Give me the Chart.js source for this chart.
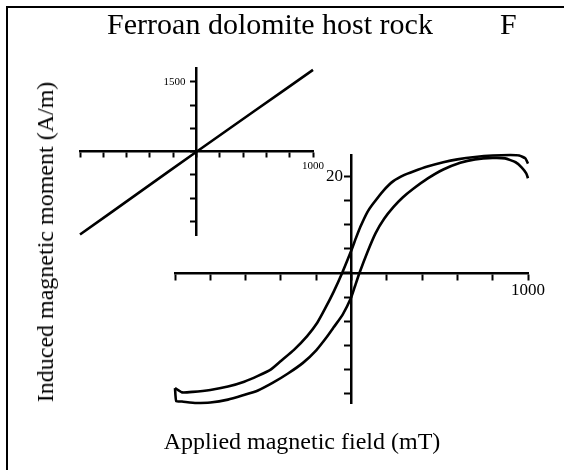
<!DOCTYPE html>
<html>
<head>
<meta charset="utf-8">
<script src="https://cdn.jsdelivr.net/npm/chart.js@4"></script>
<style>
  body { margin: 0; background: #fff; }
  #wrap { position: relative; width: 564px; height: 470px; overflow: hidden;
          font-family: "Liberation Serif", "Times New Roman", serif; color: #000; }
  #frame { position: absolute; left: 6px; top: 6px; right: -10px; bottom: -10px;
           border-top: 2.5px solid #000; border-left: 2.5px solid #000; }
  canvas { position: absolute; left: 0; top: 0; }
  .txt { position: absolute; white-space: nowrap; line-height: 1; }
</style>
</head>
<body>
<div id="wrap">
  <div id="frame"></div>
  <canvas id="main" width="564" height="470"></canvas>
  <canvas id="inset" width="564" height="470"></canvas>
  <div class="txt" style="left:270px; top:9px; font-size:30px; transform:translateX(-50%)">Ferroan dolomite host rock</div>
  <div class="txt" style="left:500px; top:9px; font-size:30px">F</div>
  <div class="txt" style="left:302px; top:429px; font-size:24px; transform:translateX(-50%)">Applied magnetic field (mT)</div>
  <div class="txt" style="left:45px; top:242px; font-size:24px; transform:translate(-50%,-50%) rotate(-90deg)">Induced magnetic moment (A/m)</div>
</div>
<script>
// corrected loop, field in mT, moment in A/m
// descending branch (+1000 -> -1000)
const descField = [1000, 985, 950, 900, 800, 700, 600, 520, 430, 350, 300, 237, 180, 122, 90, 51, 25, 0,
  -53, -100, -150, -194, -250, -326, -400, -458, -530, -608, -700, -800, -900, -960, -1000];
const descMoment = [22.6, 23.7, 24.3, 24.4, 24.3, 24.0, 23.5, 22.9, 22.0, 21.0, 20.3, 19.0, 17.0, 14.3, 12.6, 9.6, 7.2, 4.75,
  0, -3.8, -7.4, -10.3, -13.0, -15.9, -18.2, -20.0, -21.3, -22.5, -23.5, -24.2, -24.6, -24.7, -23.8];
// ascending branch (-1000 -> +1000)
const ascField = [-1000, -993, -960, -880, -800, -700, -615, -530, -445, -360, -275, -200, -139, -100, -50, 0,
  20, 45, 90, 136, 185, 237, 290, 350, 430, 520, 616, 700, 800, 870, 930, 965, 990, 1000];
const ascMoment = [-23.8, -26.5, -26.6, -26.9, -26.8, -26.2, -25.3, -24.3, -22.7, -20.8, -18.6, -16.0, -13.2, -11.2, -8.6, -4.9,
  -2.7, 0, 4.3, 8.2, 11.2, 13.6, 15.6, 17.4, 19.5, 21.4, 22.8, 23.5, 23.8, 23.7, 22.9, 21.8, 20.6, 19.6];

// inset: uncorrected loop
const rawField = [-1000, -500, 0, 500, 1000];
const rawMoment = [-1780, -890, 0, 880, 1760];

const mainXTicks = [-1000, -800, -600, -400, -200, 0, 200, 400, 600, 800, 1000];
const mainXTickLabels = ['', '', '', '', '', '', '', '', '', '', '1000'];
const mainYTicks = [-25, -20, -15, -10, -5, 0, 5, 10, 15, 20];
const mainYTickLabels = ['', '', '', '', '', '', '', '', '', '20\u2002'];

const insetXTicks = [-1000, -800, -600, -400, -200, 0, 200, 400, 600, 800, 1000];
const insetXTickLabels = ['', '', '', '', '', '', '', '', '', '', '1000'];
const insetYTicks = [-1500, -1000, -500, 0, 500, 1000, 1500];
const insetYTickLabels = ['', '', '', '', '', '', '1500\u2003'];

const serif = '"Liberation Serif", "Times New Roman", serif';

function toPoints(xs, ys) {
  return xs.map((x, i) => ({ x: x, y: ys[i] }));
}

function lineSet(points) {
  return {
    data: points,
    showLine: true,
    borderColor: '#000',
    borderWidth: 2.6,
    pointRadius: 0,
    tension: 0.15,
    fill: false,
    clip: false
  };
}

function axis(pos, min, max, ticks, labels, fontSize, tickLen, pad) {
  return {
    type: 'linear',
    position: pos,
    min: min,
    max: max,
    afterBuildTicks: a => { a.ticks = ticks.map(v => ({ value: v })); },
    border: { display: true, color: '#000', width: 2.5 },
    grid: { drawOnChartArea: false, drawTicks: true, tickLength: tickLen, tickWidth: 2, color: '#000' },
    ticks: {
      autoSkip: false,
      maxRotation: 0,
      padding: pad,
      color: '#000',
      font: { family: serif, size: fontSize },
      callback: (v, i) => labels[i]
    }
  };
}

function baseOptions(pad, scales) {
  return {
    responsive: false,
    animation: false,
    layout: { padding: pad },
    plugins: { legend: { display: false }, tooltip: { enabled: false } },
    scales: scales
  };
}

new Chart(document.getElementById('main'), {
  type: 'scatter',
  data: { datasets: [lineSet(toPoints(descField, descMoment)), lineSet(toPoints(ascField, ascMoment))] },
  options: baseOptions({ left: 175, right: 36, top: 155, bottom: 67 }, {
    x: axis({ y: 0 }, -1000, 1000, mainXTicks, mainXTickLabels, 17, 6, 1),
    y: axis({ x: 0 }, -26.9, 24.4, mainYTicks, mainYTickLabels, 17, 6, 3)
  })
});

new Chart(document.getElementById('inset'), {
  type: 'scatter',
  data: { datasets: [lineSet(toPoints(rawField, rawMoment))] },
  options: baseOptions({ left: 80, right: 251, top: 68, bottom: 235 }, {
    x: axis({ y: 0 }, -1000, 1000, insetXTicks, insetXTickLabels, 11, 5, 3),
    y: axis({ x: 0 }, -1790, 1800, insetYTicks, insetYTickLabels, 11, 5, 3)
  })
});
</script>
</body>
</html>
